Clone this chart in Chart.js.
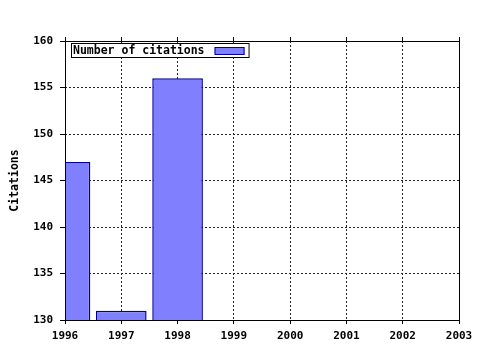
<!DOCTYPE html>
<html>
<head>
<meta charset="utf-8">
<script src="https://cdn.jsdelivr.net/npm/chart.js@4/dist/chart.umd.min.js"></script>
<style>
  html, body { margin: 0; padding: 0; background: #fff; }
  #wrap { width: 480px; height: 350px; }
</style>
</head>
<body>
<div id="wrap"><canvas id="citeChart" width="480" height="350"></canvas></div>
<script>
// DATA
const years = [1996, 1997, 1998];
const citations = [147, 131, 156];
const seriesLabel = 'Number of citations';

// FRAME + LEGEND BOX (drawn inside the plot area like the original)
const framePlugin = {
    id: 'frame',
    afterDatasetsDraw(chart) {
        const { ctx, chartArea: a } = chart;
        ctx.save();
        ctx.strokeStyle = '#000';
        ctx.lineWidth = 1;
        ctx.strokeRect(Math.round(a.left) + 0.5, Math.round(a.top) + 0.5,
            Math.round(a.right - a.left), Math.round(a.bottom - a.top));
        ctx.restore();
    },
    afterDraw(chart) {
        const { ctx, chartArea: a } = chart;
        const ds = chart.data.datasets[0];
        const x = Math.round(a.left) + 6, y = Math.round(a.top) + 2;
        ctx.save();
        ctx.font = 'bold 11.5px "DejaVu Sans Mono"';
        const tw = ctx.measureText(ds.label).width;
        const w = tw + 46, h = 14;
        ctx.fillStyle = '#fff';
        ctx.fillRect(x, y, w, h);
        ctx.strokeStyle = '#000';
        ctx.strokeRect(x + 0.5, y + 0.5, w, h);
        ctx.fillStyle = '#000';
        ctx.textBaseline = 'middle';
        ctx.fillText(ds.label, x + 2, y + h / 2 + 1);
        ctx.fillStyle = ds.backgroundColor;
        ctx.fillRect(x + tw + 12, y + 4, 30, 8);
        ctx.strokeStyle = ds.borderColor;
        ctx.strokeRect(x + tw + 12.5, y + 4.5, 29, 7);
        ctx.restore();
    }
};

Chart.defaults.font.family = '"DejaVu Sans Mono"';
Chart.defaults.font.weight = 'bold';
Chart.defaults.font.size = 11;
Chart.defaults.color = '#000';

new Chart(document.getElementById('citeChart'), {
    type: 'bar',
    data: {
        datasets: [{
            label: seriesLabel,
            data: years.map((y, i) => ({ x: y, y: citations[i] })),
            backgroundColor: '#8080ff',
            borderColor: '#0000a0',
            borderWidth: 1.5,
            borderSkipped: 'start',
            categoryPercentage: 1,
            barPercentage: 0.9,
            clip: 0
        }]
    },
    options: {
        responsive: false,
        animation: false,
        layout: { padding: { left: 0, right: 21, top: 0, bottom: 0 } },
        plugins: {
            legend: { display: false },
            tooltip: { enabled: false }
        },
        scales: {
            x: {
                type: 'linear',
                position: 'bottom',
                offset: false,
                min: 1996,
                max: 2003,
                ticks: { stepSize: 1, padding: 6, maxRotation: 0, callback: v => String(v) },
                grid: { offset: false, color: '#222', tickLength: 4, tickColor: '#000', tickBorderDash: [] },
                border: { display: false, dash: [2, 2] },
                afterFit: s => { s.height = 30; }
            },
            x2: {
                type: 'linear',
                position: 'top',
                offset: false,
                min: 1996,
                max: 2003,
                ticks: { stepSize: 1, display: false },
                grid: { offset: false, drawOnChartArea: false, tickLength: 4, tickColor: '#000' },
                border: { display: false },
                afterFit: s => { s.height = 41; }
            },
            y: {
                min: 130,
                max: 160,
                ticks: { stepSize: 5, padding: 7 },
                grid: { color: '#222', tickLength: 5, tickColor: '#000', tickBorderDash: [] },
                border: { display: false, dash: [2, 2] },
                title: { display: true, text: 'Citations', padding: { top: 8, bottom: 0 }, font: { size: 11.5 } },
                afterFit: s => { s.width = 65; }
            }
        }
    },
    plugins: [framePlugin]
});
</script>
</body>
</html>
